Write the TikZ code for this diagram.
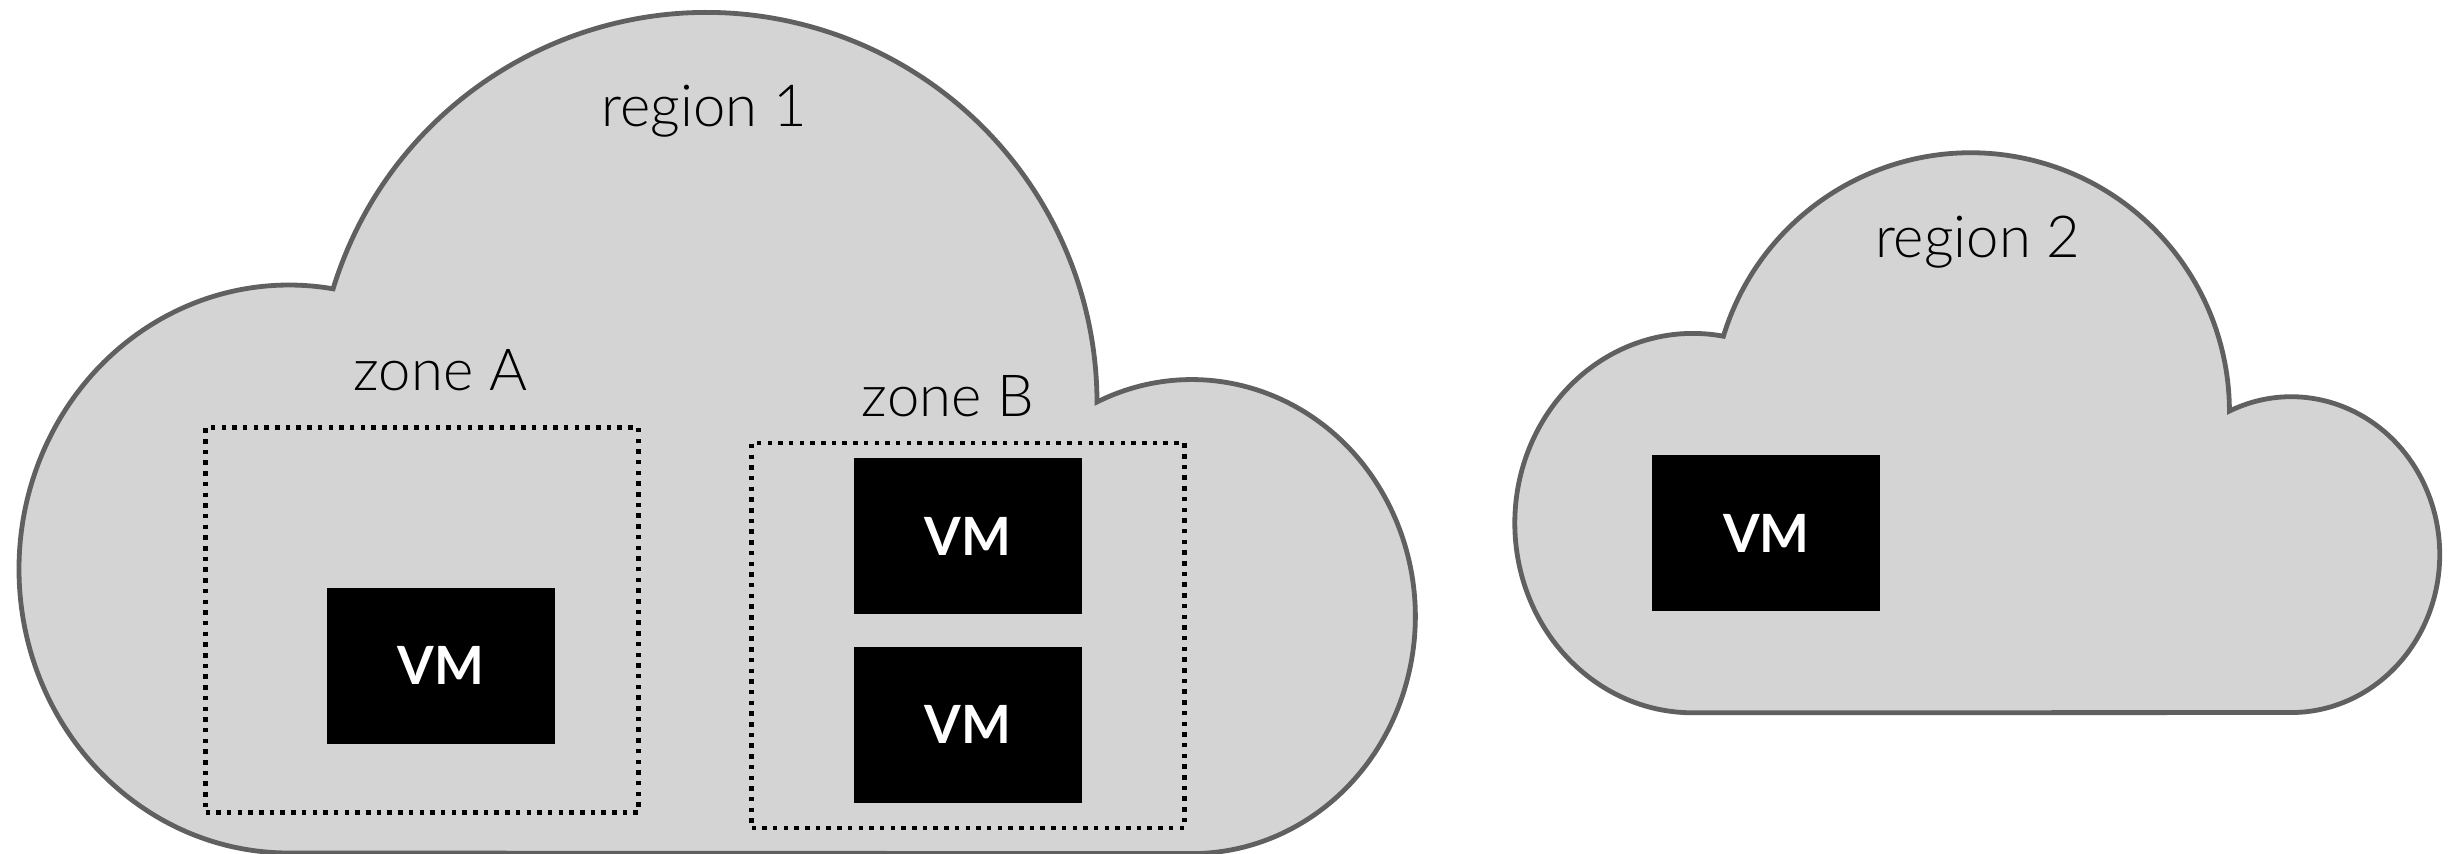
\documentclass[tikz,border=0pt]{standalone}
\usepackage{fontspec}
\setmainfont{Lato}[UprightFont=* Light,BoldFont=* Bold]
\usepackage{tikz}
\usetikzlibrary{positioning,calc}
\definecolor{cloudline}{RGB}{96,96,96}
\definecolor{cloudfill}{RGB}{212,212,212}

\begin{document}
\begin{tikzpicture}[
    x=0.1mm,y=0.1mm,
    cloud/.style={draw=cloudline,fill=cloudfill,line width=0.48mm,line join=miter},
    zonebox/.style={rectangle,draw=black,line width=0.45mm,dash pattern=on 0.45mm off 0.62mm,
      minimum width=43.3mm,minimum height=38.5mm,inner sep=0pt},
    vm/.style={rectangle,fill=black,text=white,font=\bfseries\fontsize{15}{15}\selectfont,
      minimum width=22.8mm,minimum height=15.6mm,inner sep=0pt},
    lbl/.style={anchor=base,inner sep=0pt,font=\fontsize{16.5}{18}\selectfont}]
    \useasboundingbox (0,0) rectangle (2451,853);
    % region 1
    \coordinate (l1) at (289,284);
    \draw[cloud] ($(l1)+(270:270 and 284)$) arc[start angle=270,end angle=80.6,x radius=270,y radius=284]
      arc[start angle=163,end angle=0.15,radius=390.5]
      arc[start angle=115.1,end angle=-90,x radius=223.5,y radius=237]
      -- cycle;
    % region 2
    \coordinate (l2) at (1692.8,329.9);
    \draw[cloud] ($(l2)+(270:178 and 189.7)$) arc[start angle=270,end angle=80.1,x radius=178,y radius=189.7]
      arc[start angle=163.1,end angle=0.07,radius=258.6]
      arc[start angle=114.6,end angle=-90,x radius=148.5,y radius=157.9]
      -- cycle;
    \node[lbl] (reg1) at (704,726.3) {region 1};
    \node[lbl] (reg2) at (1977.7,595.3) {region 2};
    % zones
    \node[zonebox] (zoneA) at (422,233) {};
    \node[zonebox] (zoneB) at (968,217.5) {};
    \node[lbl] (zoneAlbl) at (440.3,462.3) {zone A};
    \node[lbl] (zoneBlbl) at (947.8,436.3) {zone B};
    % machines
    \node[vm] (vmA) at (440.8,187.2) {VM};
    \node[vm] (vmB1) at (968,317) {VM};
    \node[vm,below=3.13mm of vmB1] (vmB2) {VM};
    \node[vm] (vmR2) at (1766.3,320) {VM};
\end{tikzpicture}
\end{document}
